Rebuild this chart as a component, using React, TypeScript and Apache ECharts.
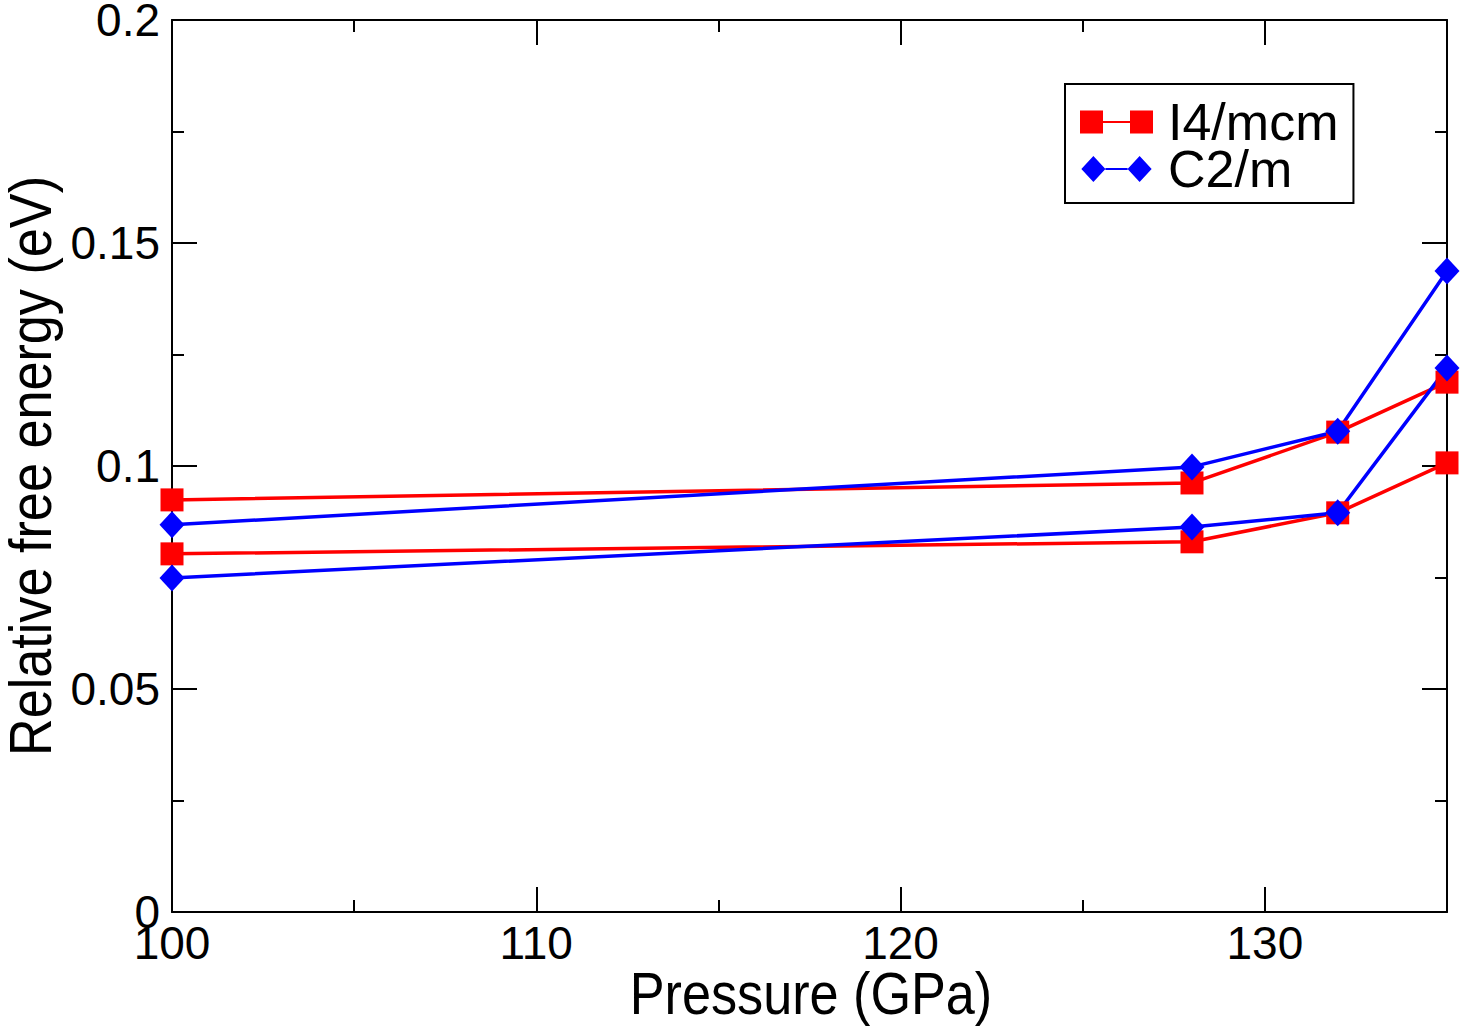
import React, { useEffect, useRef } from "react";
import * as echarts from "echarts";

// Pressure points (GPa)
const pressure = [100, 128, 132, 135];
// Relative free energy (eV), two curves per structure
const i4mcmUpper = [0.0924, 0.0962, 0.1076, 0.1188];
const i4mcmLower = [0.0803, 0.083, 0.0895, 0.1007];
const c2mUpper = [0.0868, 0.0998, 0.1078, 0.1437];
const c2mLower = [0.0749, 0.0863, 0.0895, 0.122];

const xTitle = "Pressure (GPa)";
const yTitle = "Relative free energy (eV)";

const RED = "#ff0000";
const BLUE = "#0000ff";
const FONT = "'Liberation Sans', Arial, Helvetica, sans-serif";

// legend icons: marker - line - marker
const squareIcon = "path://M0,0H23V23H0Z M23,10.5H50V12.5H23Z M50,0H73V23H50Z";
const diamondIcon =
  "path://M0,13.5L12.5,0L25,13.5L12.5,27Z M25,12.5H48V14.5H25Z M48,13.5L60.5,0L73,13.5L60.5,27Z";

const pairs = (ys: number[]) => pressure.map((p, i) => [p, ys[i]]);

export default function App() {
  const ref = useRef<HTMLDivElement>(null);

  useEffect(() => {
    if (!ref.current) return;
    const chart = echarts.init(ref.current, null, { renderer: "svg" });

    const axisLine = { show: true, onZero: false, lineStyle: { color: "#000", width: 2 } };
    const tick = { show: true, inside: true, length: 25, lineStyle: { color: "#000", width: 2 } };
    const minor = { show: true, splitNumber: 2, length: 12, lineStyle: { color: "#000", width: 2 } };

    const xBase = { type: "value", min: 100, max: 135, interval: 10 } as any;
    const yBase = { type: "value", min: 0, max: 0.2, interval: 0.05 } as any;

    const lineSeries = (name: string, ys: number[], color: string, symbol: string, size: any) => ({
      type: "line",
      name,
      data: pairs(ys),
      symbol,
      symbolSize: size,
      showAllSymbol: true,
      clip: false,
      lineStyle: { color, width: 3.5 },
      itemStyle: { color, borderWidth: 0 },
      emphasis: { disabled: true },
      xAxisIndex: 0,
      yAxisIndex: 0,
    });

    // axis titles in a condensed face: regular sans squeezed horizontally
    const titleStyle = { fontFamily: FONT, fontSize: 60, fill: "#000" };

    chart.setOption({
      animation: false,
      backgroundColor: "#fff",
      grid: {
        left: 172,
        right: 18,
        top: 20,
        bottom: 116,
        containLabel: false,
        outerBoundsMode: "none",
      },
      legend: {
        orient: "vertical",
        left: 1065,
        top: 84,
        padding: [12, 15, 8, 15],
        itemGap: -5,
        itemWidth: 73,
        itemHeight: 26,
        borderColor: "#000",
        borderWidth: 2,
        backgroundColor: "#fff",
        selectedMode: false,
        itemStyle: { borderWidth: 0 },
        textStyle: { fontFamily: FONT, fontSize: 52, lineHeight: 48, color: "#000", padding: [0, 0, 0, 10] },
        data: [
          { name: "I4/mcm", icon: squareIcon },
          { name: "C2/m", icon: diamondIcon },
        ],
      },
      graphic: [
        {
          type: "text",
          x: 811,
          y: 993,
          scaleX: 0.87,
          style: { ...titleStyle, text: xTitle, align: "center", verticalAlign: "middle" },
          silent: true,
        },
        {
          type: "text",
          x: 30,
          y: 466,
          rotation: Math.PI / 2,
          scaleX: 0.87,
          style: { ...titleStyle, text: yTitle, align: "center", verticalAlign: "middle" },
          silent: true,
        },
      ],
      xAxis: [
        {
          ...xBase,
          position: "bottom",
          axisLine,
          axisTick: tick,
          minorTick: minor,
          splitLine: { show: false },
          axisLabel: { fontFamily: FONT, fontSize: 46, color: "#000", margin: 8, showMaxLabel: false },
        },
        {
          ...xBase,
          position: "top",
          axisLine,
          axisTick: tick,
          minorTick: minor,
          splitLine: { show: false },
          axisLabel: { show: false },
        },
      ],
      yAxis: [
        {
          ...yBase,
          position: "left",
          axisLine,
          axisTick: tick,
          minorTick: minor,
          splitLine: { show: false },
          axisLabel: { fontFamily: FONT, fontSize: 46, color: "#000", margin: 12 },
        },
        {
          ...yBase,
          position: "right",
          axisLine,
          axisTick: tick,
          minorTick: minor,
          splitLine: { show: false },
          axisLabel: { show: false },
        },
      ],
      series: [
        lineSeries("I4/mcm", i4mcmUpper, RED, "rect", 23),
        lineSeries("I4/mcm", i4mcmLower, RED, "rect", 23),
        lineSeries("C2/m", c2mUpper, BLUE, "diamond", [25, 27]),
        lineSeries("C2/m", c2mLower, BLUE, "diamond", [25, 27]),
      ],
    });

    return () => chart.dispose();
  }, []);

  return (
    <div
      ref={ref}
      style={{ position: "absolute", left: 0, top: 0, width: 1465, height: 1028 }}
    />
  );
}
